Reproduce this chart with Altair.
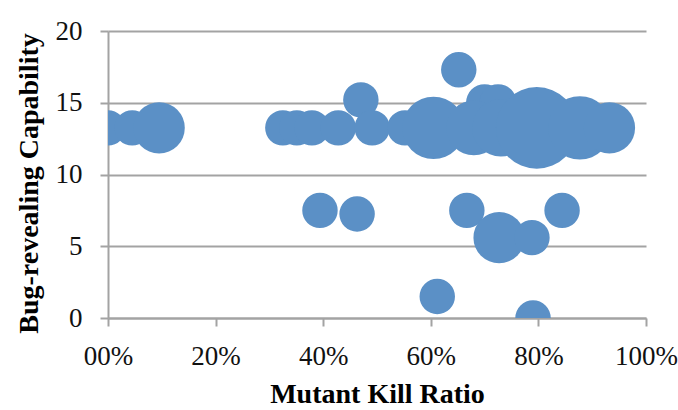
import altair as alt
import pandas as pd

# Mutant kill ratio (x), bug-revealing capability (y) and bubble weight per subject
kill_ratio = [0.000, 0.045, 0.095, 0.325, 0.351, 0.379, 0.428, 0.470, 0.491,
              0.552, 0.605, 0.652, 0.700, 0.725, 0.680, 0.730, 0.797, 0.877,
              0.932, 0.394, 0.463, 0.667, 0.727, 0.788, 0.844, 0.612, 0.790]
capability = [13.25, 13.25, 13.25, 13.25, 13.25, 13.25, 13.25, 15.2, 13.25,
              13.25, 13.25, 17.3, 15.0, 15.0, 13.25, 13.25, 13.25, 13.25,
              13.25, 7.5, 7.25, 7.5, 5.6, 5.6, 7.5, 1.5, 0.0]
weight = [1.0, 1.0, 2.1, 1.0, 1.0, 1.0, 1.0, 1.0, 1.0,
          1.0, 3.1, 1.0, 1.1, 1.1, 2.4, 2.6, 5.3, 3.2,
          2.1, 1.0, 1.0, 1.0, 2.1, 1.0, 1.0, 1.0, 1.0]

y_ticks = [0, 5, 10, 15, 20]
x_ticks = [0, 0.2, 0.4, 0.6, 0.8, 1.0]

df = pd.DataFrame({"ratio": kill_ratio, "cap": capability, "w": weight})

SERIF = "Liberation Serif"
GRAY = "#a3a3a3"

chart = (
    alt.Chart(df)
    .mark_circle(color="#5b90c6", opacity=1, clip=True, strokeWidth=0)
    .encode(
        x=alt.X(
            "ratio:Q",
            scale=alt.Scale(domain=[0, 1], nice=False, zero=False),
            axis=alt.Axis(
                values=x_ticks,
                labelExpr="datum.value == 0 ? '00%' : format(datum.value, '.0%')",
                title="Mutant Kill Ratio",
                titleFont=SERIF,
                titleFontSize=28,
                titleFontWeight="bold",
                titleColor="#000000",
                titleBaseline="alphabetic",
                titleY=84,
                labelFont=SERIF,
                labelFontSize=27,
                labelColor="#111111",
                labelPadding=17,
                labelFlush=False,
                labelOverlap=False,
                grid=False,
                domainColor=GRAY,
                domainWidth=2,
                tickColor=GRAY,
                tickWidth=2,
                tickSize=8,
            ),
        ),
        y=alt.Y(
            "cap:Q",
            scale=alt.Scale(domain=[0, 20], nice=False),
            axis=alt.Axis(
                values=y_ticks,
                title="Bug-revealing Capability",
                titleFont=SERIF,
                titleFontSize=28,
                titleFontWeight="bold",
                titleColor="#000000",
                titleAngle=270,
                titleAlign="center",
                titleBaseline="middle",
                titleX=-79,
                titleY=152,
                labelFont=SERIF,
                labelFontSize=27,
                labelColor="#111111",
                labelPadding=18,
                labelBaseline="middle",
                labelFlush=False,
                grid=True,
                gridColor=GRAY,
                gridWidth=2,
                domainColor=GRAY,
                domainWidth=2,
                tickColor=GRAY,
                tickWidth=2,
                tickSize=8,
            ),
        ),
        size=alt.Size(
            "w:Q",
            scale=alt.Scale(type="linear", domain=[0, 6], range=[0, 6 * 1257], zero=True),
            legend=None,
        ),
    )
    .properties(
        width=538,
        height=287,
        autosize=alt.AutoSizeParams(type="none"),
        padding={"left": 108, "top": 31, "right": 32, "bottom": 92},
        background="white",
    )
    .configure_view(stroke=None)
)

chart.save("out.html", embed_options={"renderer": "svg", "actions": False})
